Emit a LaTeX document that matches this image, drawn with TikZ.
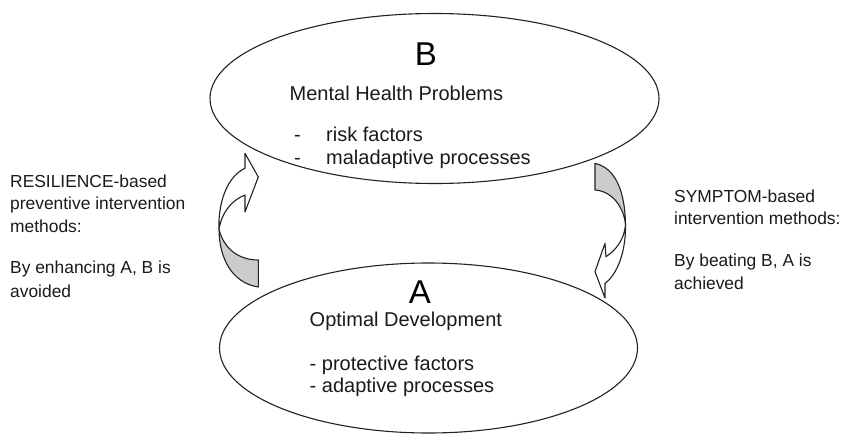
\documentclass[tikz,border=0pt]{standalone}
\usepackage{fontspec}
\usetikzlibrary{shapes.geometric}
\setmainfont{Liberation Sans}
\definecolor{linec}{HTML}{222222}
\definecolor{backc}{HTML}{CCCCCC}
\definecolor{textc}{HTML}{1A1A1A}
\begin{document}
\begin{tikzpicture}[x=1pt,y=-1pt,
  shape line/.style={draw=linec,line width=1.1pt,line join=round},
  oval/.style={draw=linec,line width=1.1pt},
  sidetext/.style={anchor=base west,inner sep=0pt,text=textc,font=\fontsize{17.4}{22}\selectfont},
  ovaltext/.style={anchor=base west,inner sep=0pt,text=textc,font=\fontsize{20}{22}\selectfont},
  bigletter/.style={anchor=base,inner sep=0pt,text=black,font=\fontsize{33}{36}\selectfont}]
\useasboundingbox (0,0) rectangle (852,434);
% left curved arrow (up to B)
\coordinate (lx) at (219,229);
\filldraw[shape line,fill=backc] (lx) .. controls (219,258) and (232,283) .. (258.3,287)
  -- (258.3,260) .. controls (240,260) and (224,250) .. (lx) -- cycle;
\filldraw[shape line,fill=white] (245,168.3) -- (245,153.3) -- (258.3,177) -- (245,212) -- (245,195)
  .. controls (232,200) and (222,212) .. (lx)
  .. controls (218,205) and (226,177) .. (245,168.3) -- cycle;
% right curved arrow (down to A)
\coordinate (rx) at (625.5,225);
\filldraw[shape line,fill=backc] (595,163.3) .. controls (615,168) and (625,190) .. (rx)
  .. controls (624,207) and (612,191) .. (595,190) -- cycle;
\filldraw[shape line,fill=white] (rx) .. controls (626,250) and (618,274) .. (605,283.3)
  -- (605,298) -- (595,271.7) -- (605,243.3) -- (606,256.7)
  .. controls (616,250) and (624,240) .. (rx) -- cycle;
% ellipses
\node[oval,ellipse,minimum width=449pt,minimum height=170pt,inner sep=0pt] (B) at (434.5,98.5) {};
\node[oval,ellipse,minimum width=418pt,minimum height=170pt,inner sep=0pt] (A) at (428.5,348) {};
% B texts
\node[bigletter] (Bl) at (426,65.7) {B};
\node[ovaltext] (Bt) at (289.5,100) {Mental Health Problems};
\node[ovaltext] (Bd1) at (294,141.7) {-};
\node[ovaltext] (Bi1) at (326,141.7) {risk factors};
\node[ovaltext] (Bd2) at (294,164) {-};
\node[ovaltext] (Bi2) at (326,164) {maladaptive processes};
% A texts
\node[bigletter] (Al) at (420,303.3) {A};
\node[ovaltext] (At) at (309.5,326) {Optimal Development};
\node[ovaltext] (Ai1) at (309.5,370) {- protective factors};
\node[ovaltext] (Ai2) at (309.5,392) {- adaptive processes};
% left side text
\node[sidetext] (L1) at (10,187.3) {RESILIENCE-based};
\node[sidetext] (L2) at (10,209.5) {preventive intervention};
\node[sidetext] (L3) at (10,232) {methods:};
\node[sidetext] (L4) at (10,273.5) {By enhancing A, B is};
\node[sidetext] (L5) at (10,297) {avoided};
% right side text
\node[sidetext] (R1) at (674,202) {SYMPTOM-based};
\node[sidetext] (R2) at (674,224.5) {intervention methods:};
\node[sidetext] (R3) at (674,266.7) {By beating B, A is};
\node[sidetext] (R4) at (674,289) {achieved};
\end{tikzpicture}
\end{document}
